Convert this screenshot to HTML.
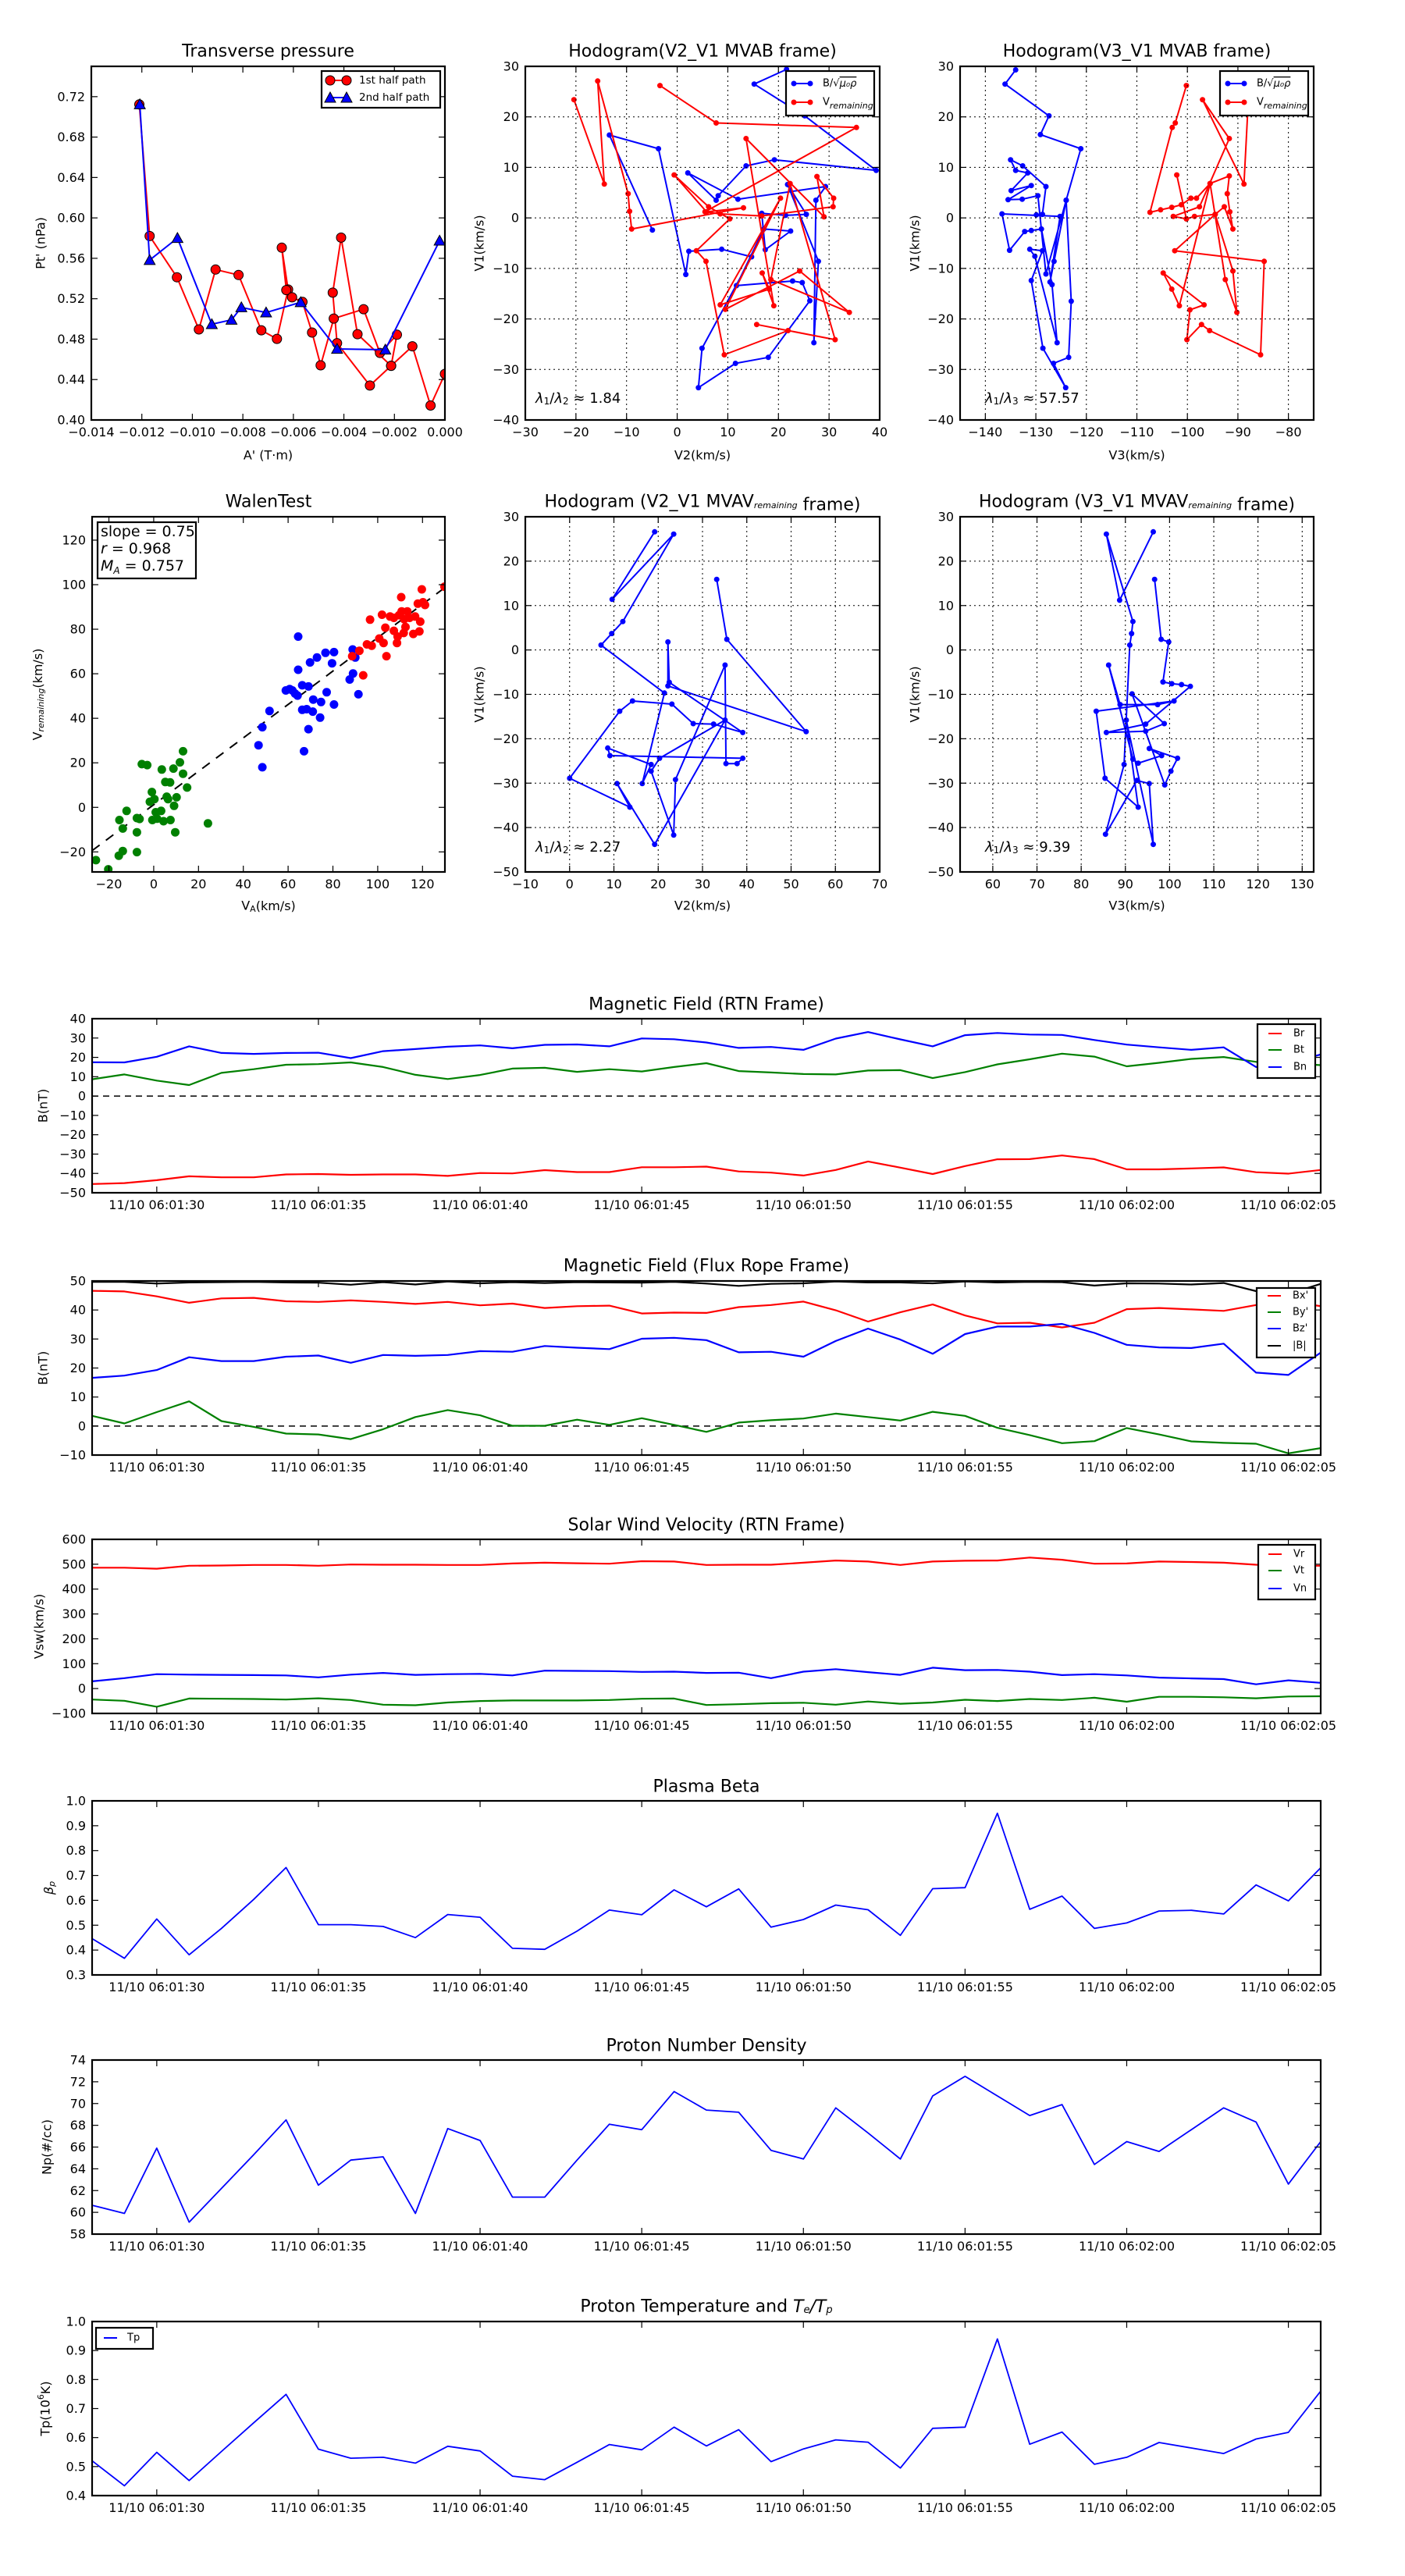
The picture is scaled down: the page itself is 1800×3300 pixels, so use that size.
<!DOCTYPE html>
<html><head><meta charset="utf-8"><title>Flux rope analysis</title>
<style>
html,body{margin:0;padding:0;background:#fff;}
svg{display:block;font-family:"DejaVu Sans","Liberation Sans",sans-serif;}
</style></head>
<body>
<svg id="fig" width="1800" height="3300" viewBox="0 0 1800 3300" xmlns="http://www.w3.org/2000/svg">
<rect x="0" y="0" width="1800" height="3300" fill="#fff"/>
</svg>
<script>
// ---------- DATA ----------
// Transverse pressure
const tpA1=[-0.01210,-0.01169,-0.01061,-0.00974,-0.00908,-0.00817,-0.00727,-0.00665,-0.00621,-0.00646,-0.00628,-0.00605,-0.00564,-0.00526,-0.00492,-0.00440,-0.00322,-0.00257,-0.00190,-0.00213,-0.00297,-0.00427,-0.00444,-0.00411,-0.00346,-0.00213,-0.00129,-0.00057,0.0];
const tpP1=[0.7123,0.5820,0.5412,0.4896,0.5489,0.5435,0.4888,0.4803,0.5291,0.5705,0.5286,0.5214,0.5168,0.4865,0.4541,0.5004,0.5096,0.4664,0.4844,0.4536,0.4341,0.4760,0.5260,0.5805,0.4849,0.4536,0.4729,0.4143,0.4456];
const tpA2=[-0.01208,-0.01169,-0.01059,-0.00923,-0.00845,-0.00806,-0.00708,-0.00571,-0.00427,-0.00236,-0.00021];
const tpP2=[0.7123,0.5582,0.5800,0.4947,0.4991,0.5114,0.5063,0.5165,0.4703,0.4695,0.5774];
const tpXTicks=[-0.014,-0.012,-0.010,-0.008,-0.006,-0.004,-0.002,0.000];
const tpYTicks=[0.40,0.44,0.48,0.52,0.56,0.60,0.64,0.68,0.72];
// Hodogram V2-V1 MVAB
const h1BV2=[-4.9,-13.4,-3.7,1.7,2.3,8.8,14.7,4.9,4.2,11.5,18.0,26.2,24.7,22.8,11.7,17.1,22.4,17.4,16.7,21.4,25.5,21.8,27.9,27.0,27.4,29.3,12.0,2.1,7.7,8.1,13.6,19.2,39.3,25.2,15.2,21.6];
const h1BV1=[-2.4,16.4,13.7,-11.2,-6.6,-6.2,-7.7,-25.8,-33.6,-28.8,-27.6,-16.4,-12.8,-12.5,-13.4,-2.2,-2.6,-6.3,0.9,0.5,0.7,6.6,-8.6,-24.7,3.5,6.2,3.7,8.9,3.5,4.4,10.3,11.5,9.4,20.2,26.5,29.4];
const h1VV2=[-20.4,-14.4,-15.7,-9.7,-9.4,-9.0,13.1,5.8,-0.6,6.2,10.4,3.8,5.7,9.3,21.9,15.7,31.2,22.3,18.5,34.0,24.2,9.5,20.4,8.5,18.2,16.8,19.1,13.6,29.0,27.6,30.9,30.8,16.7,8.5,5.5,35.4,7.7,-3.4];
const h1VV1=[23.4,6.7,27.1,4.8,1.3,-2.2,2.0,1.2,8.5,2.2,-0.2,-6.5,-8.6,-27.1,-22.3,-21.1,-24.1,6.8,-12.2,-18.7,-10.5,-18.1,3.9,-17.2,-14.1,-10.9,-17.4,15.7,0.2,8.2,3.9,2.2,0.4,0.8,1.2,17.9,18.8,26.2];
// Hodogram V3-V1 MVAB
const h2BV3=[-134.0,-136.1,-127.4,-129.1,-121.1,-124.0,-123.0,-123.5,-126.5,-124.1,-128.6,-130.9,-128.7,-131.2,-130.2,-125.8,-126.8,-128.9,-130.9,-132.2,-135.2,-136.7,-125.2,-127.2,-126.4,-124.0,-128.0,-129.6,-132.7,-135.5,-130.9,-134.9,-131.6,-134.0,-135.0,-132.6,-128.0,-128.7,-129.9];
const h2BV1=[29.3,26.5,20.2,16.5,13.7,3.5,-16.5,-27.6,-28.8,-33.6,-25.8,-12.4,-6.5,-6.2,-7.6,-24.7,-13.2,-2.2,-2.5,-2.7,-6.4,0.8,0.3,-12.7,-8.6,3.5,-11.1,4.4,3.7,3.6,6.4,5.4,8.9,9.4,11.5,10.3,6.2,0.7,0.6];
const h2VV3=[-100.2,-102.4,-103.0,-107.4,-105.3,-103.1,-101.2,-99.3,-98.2,-95.5,-91.7,-92.1,-91.6,-91.0,-92.7,-94.5,-102.5,-84.8,-85.5,-95.6,-97.2,-100.1,-99.5,-96.7,-104.8,-103.1,-101.6,-95.5,-92.5,-90.2,-91.0,-94.5,-98.6,-100.2,-102.1,-100.2,-102.8,-97.6,-91.7,-97.0,-88.8,-88.0];
const h2VV1=[26.2,18.8,17.9,1.1,1.6,2.1,2.6,3.9,3.9,6.8,8.3,4.8,1.2,-2.2,2.2,0.7,-6.5,-8.6,-27.1,-22.3,-21.1,-24.1,-18.2,-17.2,-10.9,-14.1,-17.4,6.8,-12.2,-18.7,-10.5,0.7,0.3,-0.2,8.5,-0.2,0.3,2.2,15.7,23.4,6.7,22.2];
// Walen test
const walGreenVA=[-25.8,-20.3,-15.6,-13.8,-7.5,-13.8,-15.3,-12.1,-7.5,-7.5,-6.3,-5.3,-2.9,-0.8,-1.7,0.3,-0.6,0.9,3.3,4.4,7.5,9.6,3.6,5.2,7.3,5.8,6.4,9.1,10.2,8.8,11.7,13.1,13.1,14.9,24.2,1.5];
const walGreenV=[-23.7,-27.8,-21.7,-19.6,-20.1,-9.5,-5.7,-1.6,-11.2,-4.8,-5.2,19.4,19.0,6.9,2.5,3.7,-5.7,-2.2,-1.6,-6.2,-5.7,-11.2,17.0,11.4,11.2,4.8,3.7,0.7,4.5,17.4,20.2,25.2,15.1,8.9,-7.2,-5.1];
const walBlueVA=[48.5,46.8,48.5,51.7,64.5,64.5,69.8,72.9,76.7,80.5,79.6,59.0,61.9,64.2,66.3,69.1,63.1,71.2,74.7,77.2,80.5,66.3,68.3,71.0,74.3,69.1,67.1,88.8,90.0,89.0,87.5,91.4,60.7];
const walBlueV=[18.0,27.9,36.0,43.3,76.7,61.8,65.1,67.3,69.4,69.7,64.7,52.5,52.5,50.2,54.8,54.3,51.1,48.4,47.3,51.7,46.2,43.8,44.1,43.0,40.3,35.1,25.2,70.9,67.3,60.1,57.4,50.8,53.1];
const walRedVA=[88.6,91.8,93.5,95.2,97.3,96.6,100.7,102.6,103.9,101.9,103.4,105.5,107.2,107.2,108.9,108.6,110.5,110.7,111.8,113.2,112.4,115.9,116.7,117.9,118.6,119.0,119.7,120.2,121.1,129.8,109.5,114.2,111.6];
const walRedV=[67.9,70.3,59.3,73.2,72.6,84.3,75.8,73.8,67.9,86.5,80.7,85.7,85.1,79.3,76.7,73.8,94.4,88.0,84.5,88.0,81.0,77.9,85.7,91.5,79.0,83.4,97.9,92.1,90.9,99.1,86.3,85.1,78.3];
const walFit=[0.75,1.2]; // slope, intercept
const walXTicks=[-20,0,20,40,60,80,100,120];
const walYTicks=[-20,0,20,40,60,80,100,120];
// Hodogram V2-V1 MVAV remaining
const h3V2=[19.2,9.6,23.5,12.0,9.5,7.1,21.4,16.4,18.4,8.6,9.1,39.1,37.8,35.3,35.1,23.9,23.5,18.4,20.3,35.1,19.2,10.7,13.6,0.0,11.3,14.2,23.1,27.9,32.5,39.1,22.5,22.2,22.2,53.4,35.5,33.2];
const h3V1=[26.6,11.4,26.1,6.4,3.7,1.1,-9.7,-30.1,-25.8,-22.1,-23.8,-24.4,-25.6,-25.6,-3.4,-29.2,-41.7,-27.3,-24.4,-15.8,-43.8,-30.1,-35.4,-28.9,-13.8,-11.5,-12.2,-16.6,-16.7,-18.6,-7.3,1.8,-8.1,-18.4,2.4,15.9];
// Hodogram V3-V1 MVAV remaining
const h4V3=[96.3,88.7,85.7,91.7,91.4,91.0,89.7,85.5,92.6,95.4,96.3,90.2,92.9,85.4,83.4,101.0,97.3,88.8,86.2,91.7,92.9,98.2,95.4,101.8,100.3,98.9,91.5,98.8,94.6,85.7,94.6,104.7,102.7,100.5,98.5,99.8,98.1,96.6];
const h4V1=[26.6,11.2,26.1,6.4,3.7,1.1,-25.8,-41.5,-29.4,-30.1,-43.8,-15.8,-35.4,-28.9,-13.8,-11.5,-12.3,-12.3,-3.4,-24.6,-25.5,-23.8,-22.2,-24.4,-27.3,-30.4,-9.9,-16.6,-18.3,-18.6,-16.7,-8.2,-7.8,-7.6,-7.2,1.8,2.4,15.9];
// Time series (seconds after 06:01:00)
const tsSeconds=[28,29,30,31,32,33,34,35,36,37,38,39,40,41,42,43,44,45,46,47,48,49,50,51,52,53,54,55,56,57,58,59,60,61,62,63,64,65,66];
const tsTickSeconds=[30,35,40,45,50,55,60,65];
const Br=[-45.5,-45,-43.5,-41.5,-42,-42,-40.5,-40.3,-40.7,-40.5,-40.5,-41.3,-39.8,-40,-38.3,-39.3,-39.3,-36.8,-36.8,-36.5,-39,-39.6,-41.1,-38.2,-33.8,-37,-40.3,-36.2,-32.7,-32.6,-30.7,-32.6,-37.9,-37.9,-37.4,-36.9,-39.4,-40.1,-38.2];
const Bt=[8.7,11.2,8,5.7,12,13.9,16.2,16.5,17.4,15,11,8.8,10.9,14.2,14.6,12.5,13.9,12.7,15,17,12.9,12.2,11.4,11.2,13.2,13.4,9.3,12.4,16.4,19,21.9,20.4,15.4,17.2,19.2,20.2,17.7,17,16];
const Bn=[17.5,17.4,20.3,25.7,22.3,21.8,22.3,22.4,19.6,23.2,24.3,25.5,26.2,24.7,26.5,26.7,25.7,29.8,29.4,27.7,24.9,25.4,23.9,29.7,33.1,29.3,25.7,31.5,32.6,31.8,31.6,29,26.6,25.2,23.9,25.2,15,17,21.5];
const Bx=[46.6,46.4,44.7,42.5,44,44.2,43,42.8,43.3,42.8,42.1,42.8,41.6,42.2,40.7,41.3,41.5,38.8,39.1,39,41,41.7,42.9,39.9,36,39.2,41.9,38.1,35.4,35.6,34,35.6,40.3,40.7,40.2,39.7,41.7,43,41.3];
const By=[3.5,0.9,4.8,8.5,1.7,-0.3,-2.6,-2.9,-4.5,-1.1,3.1,5.5,3.7,0.1,0.1,2.2,0.4,2.7,0.4,-2,1.2,2,2.6,4.3,3.1,1.9,4.9,3.5,-0.6,-3.1,-5.9,-5.2,-0.7,-2.9,-5.3,-5.8,-6.1,-9.4,-7.6];
const Bz=[16.6,17.4,19.3,23.7,22.4,22.4,23.9,24.3,21.8,24.5,24.2,24.5,25.8,25.6,27.6,27,26.5,30.1,30.4,29.6,25.4,25.6,23.9,29.3,33.6,29.8,24.9,31.7,34.3,34.3,35.2,32.1,28,27.1,26.9,28.4,18.4,17.6,25.3];
const Bmag=[49.7,49.7,49.1,49.5,49.6,49.7,49.5,49.4,48.7,49.6,48.8,49.8,49.2,49.6,49.3,49.6,49.5,49.4,49.7,49.1,48.3,49,49.2,49.8,49.5,49.5,49.2,49.8,49.5,49.7,49.6,48.4,49.2,49.1,48.8,49.3,46.5,45.5,49];
const Vr=[486,486,482,494,495,497,497,494,499,498,498,497,497,503,506,504,502,512,511,497,498,498,506,515,511,497,511,514,515,527,518,502,503,511,509,506,498,494,494];
const Vt=[-44,-49,-73,-40,-41,-42,-44,-39,-46,-65,-67,-56,-50,-48,-48,-48,-46,-41,-40,-66,-63,-59,-57,-65,-52,-61,-56,-45,-50,-42,-46,-37,-53,-33,-33,-35,-39,-32,-31];
const Vn=[29,42,58,56,55,54,53,45,56,63,55,58,59,53,72,71,70,67,68,63,64,42,68,78,66,55,84,74,75,68,54,58,53,44,41,38,17,33,23];
const Beta=[0.446,0.367,0.525,0.381,0.487,0.604,0.732,0.502,0.502,0.495,0.45,0.543,0.532,0.407,0.403,0.476,0.561,0.542,0.642,0.574,0.646,0.492,0.523,0.581,0.562,0.459,0.647,0.651,0.95,0.564,0.617,0.487,0.509,0.557,0.56,0.545,0.662,0.598,0.731];
const Np=[60.65,59.9,65.9,59.1,62.2,65.3,68.5,62.5,64.8,65.1,59.9,67.7,66.6,61.4,61.4,64.8,68.1,67.6,71.1,69.4,69.2,65.7,64.9,69.6,67.3,64.9,70.7,72.5,70.7,68.9,69.9,64.4,66.5,65.6,67.6,69.6,68.3,62.6,66.5];
const Tp=[0.52,0.434,0.549,0.452,0.552,0.651,0.749,0.56,0.529,0.532,0.512,0.57,0.554,0.467,0.455,0.515,0.576,0.558,0.636,0.571,0.627,0.517,0.561,0.592,0.584,0.495,0.632,0.636,0.94,0.577,0.619,0.508,0.532,0.583,0.564,0.545,0.595,0.618,0.76];

// ---------- HELPERS ----------
const NS='http://www.w3.org/2000/svg';
const svg=document.getElementById('fig');
function mk(tag,parent,attrs){const e=document.createElementNS(NS,tag);for(const k in attrs)e.setAttribute(k,attrs[k]);parent.appendChild(e);return e;}
const RED='#ff0000',BLUE='#0000ff',GREEN='#008000';
function makeAxes(id,bx,by,bw,bh,xlim,ylim){
  const g=mk('g',svg,{});
  
  
  const cp=mk('clipPath',svg,{id:id+'-clip'});
  mk('rect',cp,{x:bx,y:by,width:bw,height:bh});
  const sx=v=>bx+(v-xlim[0])/(xlim[1]-xlim[0])*bw;
  const sy=v=>by+bh-(v-ylim[0])/(ylim[1]-ylim[0])*bh;
  const plot=mk('g',g,{'clip-path':'url(#'+id+'-clip)'});
  
  
  return {id,g,plot,sx,sy,bx,by,bw,bh};
}
function drawTicks(ax,xt,yt,xfmt,yfmt,grid){
  const tg=mk('g',ax.g,{stroke:'#000','stroke-width':1.2});
  
  
  const lg=mk('g',ax.g,{'font-size':16,fill:'#000'});
  
  
  const b=ax.by+ax.bh, r=ax.bx+ax.bw;
  xt.forEach(v=>{
    const x=ax.sx(v);
    if(grid){const gl=mk('line',tg,{x1:x,x2:x,y1:ax.by,y2:b,'stroke-dasharray':'2,4','stroke-width':1});
      }
    mk('line',tg,{x1:x,x2:x,y1:b,y2:b-8});
    mk('line',tg,{x1:x,x2:x,y1:ax.by,y2:ax.by+8});
    const t=mk('text',lg,{x:x,y:b+9,'text-anchor':'middle','dominant-baseline':'hanging'});
    t.textContent=xfmt(v);
    
  });
  yt.forEach(v=>{
    const y=ax.sy(v);
    if(grid){const gl=mk('line',tg,{x1:ax.bx,x2:r,y1:y,y2:y,'stroke-dasharray':'2,4','stroke-width':1});
      }
    mk('line',tg,{x1:ax.bx,x2:ax.bx+8,y1:y,y2:y});
    mk('line',tg,{x1:r,x2:r-8,y1:y,y2:y});
    const t=mk('text',lg,{x:ax.bx-8,y:y,'text-anchor':'end','dominant-baseline':'central'});
    t.textContent=yfmt(v);
    
  });
}
function frame(ax){
  const f=mk('rect',ax.g,{x:ax.bx,y:ax.by,width:ax.bw,height:ax.bh,fill:'none',stroke:'#000','stroke-width':2.2});
  
  
}
function title(ax,y,html,size){
  const t=mk('text',ax.g,{x:ax.bx+ax.bw/2,y:y,'text-anchor':'middle','dominant-baseline':'central','font-size':size||22});
  t.innerHTML=html;
  
  
}
function xlabel(ax,y,html){
  const t=mk('text',ax.g,{x:ax.bx+ax.bw/2,y:y,'text-anchor':'middle','dominant-baseline':'central','font-size':16});
  t.innerHTML=html;
  
  
}
function ylabel(ax,x,html){
  const cy=ax.by+ax.bh/2;
  const t=mk('text',ax.g,{x:x,y:cy,'text-anchor':'middle','dominant-baseline':'central','font-size':16,transform:'rotate(-90 '+x+' '+cy+')'});
  t.innerHTML=html;
  
  
}
function line(ax,xs,ys,color,w,name){
  let d='';
  for(let i=0;i<xs.length;i++){d+=(i?'L':'M')+ax.sx(xs[i]).toFixed(1)+' '+ax.sy(ys[i]).toFixed(1);}
  const p=mk('path',ax.plot,{d:d,fill:'none',stroke:color,'stroke-width':w,'stroke-linejoin':'round'});
  
  
  return p;
}
function dots(ax,xs,ys,color,r,name,edge){
  const g=mk('g',ax.plot,{fill:color});
  
  
  for(let i=0;i<xs.length;i++){
    const c=mk('circle',g,{cx:ax.sx(xs[i]).toFixed(1),cy:ax.sy(ys[i]).toFixed(1),r:r});
    if(edge){c.setAttribute('stroke','#000');c.setAttribute('stroke-width',1);}
    
    
  }
}
function tris(ax,xs,ys,color,s,name){
  const g=mk('g',ax.plot,{fill:color,stroke:'#000','stroke-width':1});
  
  
  for(let i=0;i<xs.length;i++){
    const x=ax.sx(xs[i]),y=ax.sy(ys[i]);
    const p=mk('polygon',g,{points:(x)+','+(y-s)+' '+(x-s)+','+(y+s*0.8)+' '+(x+s)+','+(y+s*0.8)});
    
    
  }
}
function legendBox(parent,x,y,w,h,name){
  const g=mk('g',parent,{});
  
  
  mk('rect',g,{x:x,y:y,width:w,height:h,fill:'#fff',stroke:'#000','stroke-width':2.2});
  return g;
}
function legendEntry(g,x1,x2,y,color,label,tx,marker,fs){
  const e=mk('g',g,{});
  
  
  mk('line',e,{x1:x1,x2:x2,y1:y,y2:y,stroke:color,'stroke-width':2});
  if(marker==='dot'){mk('circle',e,{cx:x1,cy:y,r:3.5,fill:color});mk('circle',e,{cx:x2,cy:y,r:3.5,fill:color});}
  if(marker==='circle'){mk('circle',e,{cx:x1,cy:y,r:6,fill:color,stroke:'#000'});mk('circle',e,{cx:x2,cy:y,r:6,fill:color,stroke:'#000'});}
  if(marker==='tri'){[x1,x2].forEach(x=>mk('polygon',e,{points:x+','+(y-7)+' '+(x-7)+','+(y+6)+' '+(x+7)+','+(y+6),fill:color,stroke:'#000'}));}
  const t=mk('text',e,{x:tx,y:y,'dominant-baseline':'central','font-size':fs||13});
  t.innerHTML=label;
}
const f3=v=>(v<0?'\u2212':'')+Math.abs(v).toFixed(3);
const f2=v=>v.toFixed(2);
const f1=v=>v.toFixed(1);
const fi=v=>(v<0?'\u2212':'')+Math.abs(v);
function range(a,b,s){const r=[];for(let v=a;v<=b+1e-9;v+=s)r.push(Math.round(v*1000)/1000);return r;}
const REM='<tspan font-style="italic" font-size="11" dy="4">remaining</tspan><tspan dy="-4"></tspan>';
const BLEG='B/\u221A<tspan text-decoration="overline" font-style="italic">\u03BC\u2080\u03C1</tspan>';

// ---------- ROW 1 ----------
{
 const ax=makeAxes('transverse-pressure',117,85,453,453,[-0.014,0.0],[0.40,0.75]);
 drawTicks(ax,tpXTicks,tpYTicks,f3,f2,false);
 line(ax,tpA1,tpP1,RED,2,'first-half-path-line');
 dots(ax,tpA1,tpP1,RED,6,'first-half-path-markers',true);
 line(ax,tpA2,tpP2,BLUE,2,'second-half-path-line');
 tris(ax,tpA2,tpP2,BLUE,7,'second-half-path-markers');
 frame(ax);
 title(ax,66,'Transverse pressure');
 xlabel(ax,583,"A' (T\u00B7m)");
 ylabel(ax,52,"Pt' (nPa)");
 const lg=legendBox(ax.g,412,91,152,47,'transverse-pressure-legend');
 legendEntry(lg,423,444,103,RED,'1st half path',460,'circle',13.5);
 legendEntry(lg,423,444,125,BLUE,'2nd half path',460,'tri',13.5);
}
{
 const ax=makeAxes('hodogram-v2-v1-mvab',673,85,454,453,[-30,40],[-40,30]);
 drawTicks(ax,range(-30,40,10),range(-40,30,10),fi,fi,true);
 line(ax,h1BV2,h1BV1,BLUE,2,'b-alfven-line');
 dots(ax,h1BV2,h1BV1,BLUE,3.5,'b-alfven-markers');
 line(ax,h1VV2,h1VV1,RED,2,'v-remaining-line');
 dots(ax,h1VV2,h1VV1,RED,3.5,'v-remaining-markers');
 frame(ax);
 title(ax,66,'Hodogram(V2_V1 MVAB frame)');
 xlabel(ax,583,'V2(km/s)');
 ylabel(ax,614,'V1(km/s)');
 const t=mk('text',ax.g,{x:686,y:510,'font-size':18,'dominant-baseline':'central'});
 t.innerHTML='<tspan font-style="italic">\u03BB</tspan><tspan font-size="12" dy="4">1</tspan><tspan dy="-4">/</tspan><tspan font-style="italic">\u03BB</tspan><tspan font-size="12" dy="4">2</tspan><tspan dy="-4"> \u2248 1.84</tspan>';
 
 const lg=legendBox(ax.g,1007,91,113,57,'hodogram-v2-v1-mvab-legend');
 legendEntry(lg,1017,1038,107,BLUE,BLEG,1054,'dot',13);
 legendEntry(lg,1017,1038,131,RED,'V'+REM,1054,'dot',13);
}
{
 const ax=makeAxes('hodogram-v3-v1-mvab',1230,85,453,453,[-145,-75],[-40,30]);
 drawTicks(ax,range(-140,-80,10),range(-40,30,10),fi,fi,true);
 line(ax,h2BV3,h2BV1,BLUE,2,'b-alfven-line');
 dots(ax,h2BV3,h2BV1,BLUE,3.5,'b-alfven-markers');
 line(ax,h2VV3,h2VV1,RED,2,'v-remaining-line');
 dots(ax,h2VV3,h2VV1,RED,3.5,'v-remaining-markers');
 frame(ax);
 title(ax,66,'Hodogram(V3_V1 MVAB frame)');
 xlabel(ax,583,'V3(km/s)');
 ylabel(ax,1172,'V1(km/s)');
 const t=mk('text',ax.g,{x:1262,y:510,'font-size':18,'dominant-baseline':'central'});
 t.innerHTML='<tspan font-style="italic">\u03BB</tspan><tspan font-size="12" dy="4">1</tspan><tspan dy="-4">/</tspan><tspan font-style="italic">\u03BB</tspan><tspan font-size="12" dy="4">3</tspan><tspan dy="-4"> \u2248 57.57</tspan>';
 
 const lg=legendBox(ax.g,1563,91,113,57,'hodogram-v3-v1-mvab-legend');
 legendEntry(lg,1573,1594,107,BLUE,BLEG,1610,'dot',13);
 legendEntry(lg,1573,1594,131,RED,'V'+REM,1610,'dot',13);
}
// ---------- ROW 2 ----------
{
 const ax=makeAxes('walen-test',118,662,452,455,[-27.5,130],[-29,130.5]);
 drawTicks(ax,walXTicks,walYTicks,fi,fi,false);
 const fx=[-27.5,130];
 const fy=fx.map(v=>walFit[0]*v+walFit[1]);
 const fl=line(ax,fx,fy,'#000',2,'walen-fit-line');
 fl.setAttribute('stroke-dasharray','12,10');
 dots(ax,walGreenVA,walGreenV,GREEN,5.5,'walen-green-points');
 dots(ax,walBlueVA,walBlueV,BLUE,5.5,'walen-blue-points');
 dots(ax,walRedVA,walRedV,RED,5.5,'walen-red-points');
 frame(ax);
 title(ax,643,'WalenTest');
 xlabel(ax,1160,'V<tspan font-size="11" dy="4">A</tspan><tspan dy="-4">(km/s)</tspan>');
 ylabel(ax,48,'V<tspan font-size="11" font-style="italic" dy="4">remaining</tspan><tspan dy="-4">(km/s)</tspan>');
 const bg=legendBox(ax.g,125,669,126,72,'walen-stats-box');
 const s1=mk('text',bg,{x:129,y:687,'font-size':19});s1.textContent='slope = 0.75';
 const s2=mk('text',bg,{x:129,y:709,'font-size':19});s2.innerHTML='<tspan font-style="italic">r</tspan> = 0.968';
 const s3=mk('text',bg,{x:129,y:731,'font-size':19});s3.innerHTML='<tspan font-style="italic">M</tspan><tspan font-style="italic" font-size="12" dy="4">A</tspan><tspan dy="-4"> = 0.757</tspan>';
}
{
 const ax=makeAxes('hodogram-v2-v1-mvav',673,662,454,455,[-10,70],[-50,30]);
 drawTicks(ax,range(-10,70,10),range(-50,30,10),fi,fi,true);
 line(ax,h3V2,h3V1,BLUE,2,'hodogram-line');
 dots(ax,h3V2,h3V1,BLUE,3.5,'hodogram-markers');
 frame(ax);
 title(ax,643,'Hodogram (V2_V1 MVAV'+REM+' frame)');
 xlabel(ax,1160,'V2(km/s)');
 ylabel(ax,614,'V1(km/s)');
 const t=mk('text',ax.g,{x:686,y:1085,'font-size':18,'dominant-baseline':'central'});
 t.innerHTML='<tspan font-style="italic">\u03BB</tspan><tspan font-size="12" dy="4">1</tspan><tspan dy="-4">/</tspan><tspan font-style="italic">\u03BB</tspan><tspan font-size="12" dy="4">2</tspan><tspan dy="-4"> \u2248 2.27</tspan>';
 
}
{
 const ax=makeAxes('hodogram-v3-v1-mvav',1230,662,453,455,[52.6,132.6],[-50,30]);
 drawTicks(ax,range(60,130,10),range(-50,30,10),fi,fi,true);
 line(ax,h4V3,h4V1,BLUE,2,'hodogram-line');
 dots(ax,h4V3,h4V1,BLUE,3.5,'hodogram-markers');
 frame(ax);
 title(ax,643,'Hodogram (V3_V1 MVAV'+REM+' frame)');
 xlabel(ax,1160,'V3(km/s)');
 ylabel(ax,1172,'V1(km/s)');
 const t=mk('text',ax.g,{x:1262,y:1085,'font-size':18,'dominant-baseline':'central'});
 t.innerHTML='<tspan font-style="italic">\u03BB</tspan><tspan font-size="12" dy="4">1</tspan><tspan dy="-4">/</tspan><tspan font-style="italic">\u03BB</tspan><tspan font-size="12" dy="4">3</tspan><tspan dy="-4"> \u2248 9.39</tspan>';
 
}
// ---------- TIME SERIES ----------
const tfmt=s=>'11/10 06:0'+(s>=60?'2:'+String(s-60).padStart(2,'0'):'1:'+String(s).padStart(2,'0'));
function tsAxes(id,by,ylim,yt,yfmt){
  const ax=makeAxes(id,118,by,1574,223,[28,66],ylim);
  drawTicks(ax,tsTickSeconds,yt,tfmt,yfmt,false);
  return ax;
}
function zeroLine(ax){
  const z=mk('line',ax.plot,{x1:ax.bx,x2:ax.bx+ax.bw,y1:ax.sy(0),y2:ax.sy(0),stroke:'#000','stroke-width':1.5,'stroke-dasharray':'8,6'});
  
  
}
{
 const ax=tsAxes('magnetic-field-rtn',1305,[-50,40],range(-50,40,10),fi);
 zeroLine(ax);
 line(ax,tsSeconds,Br,RED,2.2,'br-line');
 line(ax,tsSeconds,Bt,GREEN,2.2,'bt-line');
 line(ax,tsSeconds,Bn,BLUE,2.2,'bn-line');
 frame(ax);
 title(ax,1287,'Magnetic Field (RTN Frame)');
 ylabel(ax,55,'B(nT)');
 const lg=legendBox(ax.g,1611,1312,74,69,'magnetic-field-rtn-legend');
 legendEntry(lg,1625,1642,1324,RED,'Br',1657);
 legendEntry(lg,1625,1642,1345,GREEN,'Bt',1657);
 legendEntry(lg,1625,1642,1367,BLUE,'Bn',1657);
}
{
 const ax=tsAxes('magnetic-field-flux-rope',1641,[-10,50],range(-10,50,10),fi);
 zeroLine(ax);
 line(ax,tsSeconds,Bx,RED,2.2,'bx-prime-line');
 line(ax,tsSeconds,By,GREEN,2.2,'by-prime-line');
 line(ax,tsSeconds,Bz,BLUE,2.2,'bz-prime-line');
 line(ax,tsSeconds,Bmag,'#000',2.2,'b-magnitude-line');
 frame(ax);
 title(ax,1622,'Magnetic Field (Flux Rope Frame)');
 ylabel(ax,55,'B(nT)');
 const lg=legendBox(ax.g,1610,1650,75,89,'magnetic-field-flux-rope-legend');
 legendEntry(lg,1624,1641,1660,RED,"Bx'",1656);
 legendEntry(lg,1624,1641,1681,GREEN,"By'",1656);
 legendEntry(lg,1624,1641,1702,BLUE,"Bz'",1656);
 legendEntry(lg,1624,1641,1724,'#000','|B|',1656);
}
{
 const ax=tsAxes('solar-wind-velocity',1972,[-100,600],range(-100,600,100),fi);
 line(ax,tsSeconds,Vr,RED,2.2,'vr-line');
 line(ax,tsSeconds,Vt,GREEN,2.2,'vt-line');
 line(ax,tsSeconds,Vn,BLUE,2.2,'vn-line');
 frame(ax);
 title(ax,1954,'Solar Wind Velocity (RTN Frame)');
 ylabel(ax,50,'Vsw(km/s)');
 const lg=legendBox(ax.g,1612,1979,73,70,'solar-wind-velocity-legend');
 legendEntry(lg,1625,1642,1991,RED,'Vr',1657);
 legendEntry(lg,1625,1642,2012,GREEN,'Vt',1657);
 legendEntry(lg,1625,1642,2035,BLUE,'Vn',1657);
}
{
 const ax=tsAxes('plasma-beta',2307,[0.3,1.0],range(0.3,1.0,0.1),f1);
 line(ax,tsSeconds,Beta,BLUE,1.8,'beta-line');
 frame(ax);
 title(ax,2289,'Plasma Beta');
 ylabel(ax,62,'<tspan font-style="italic">\u03B2</tspan><tspan font-size="11" font-style="italic" dy="4">p</tspan>');
}
{
 const ax=tsAxes('proton-number-density',2639,[58,74],range(58,74,2),fi);
 line(ax,tsSeconds,Np,BLUE,1.8,'density-line');
 frame(ax);
 title(ax,2621,'Proton Number Density');
 ylabel(ax,60,'Np(#/cc)');
}
{
 const ax=tsAxes('proton-temperature',2974,[0.4,1.0],range(0.4,1.0,0.1),f1);
 line(ax,tsSeconds,Tp,BLUE,1.8,'tp-line');
 frame(ax);
 title(ax,2955,'Proton Temperature and <tspan font-style="italic">T</tspan><tspan font-size="13" font-style="italic" dy="4">e</tspan><tspan dy="-4" font-style="italic">/T</tspan><tspan font-size="13" font-style="italic" dy="4">p</tspan>');
 ylabel(ax,58,'Tp(10<tspan font-size="11" dy="-6">6</tspan><tspan dy="6">K)</tspan>');
 const lg=legendBox(ax.g,123,2982,73,27,'proton-temperature-legend');
 legendEntry(lg,133,150,2995,BLUE,'Tp',163);
}
</script>
</body></html>
